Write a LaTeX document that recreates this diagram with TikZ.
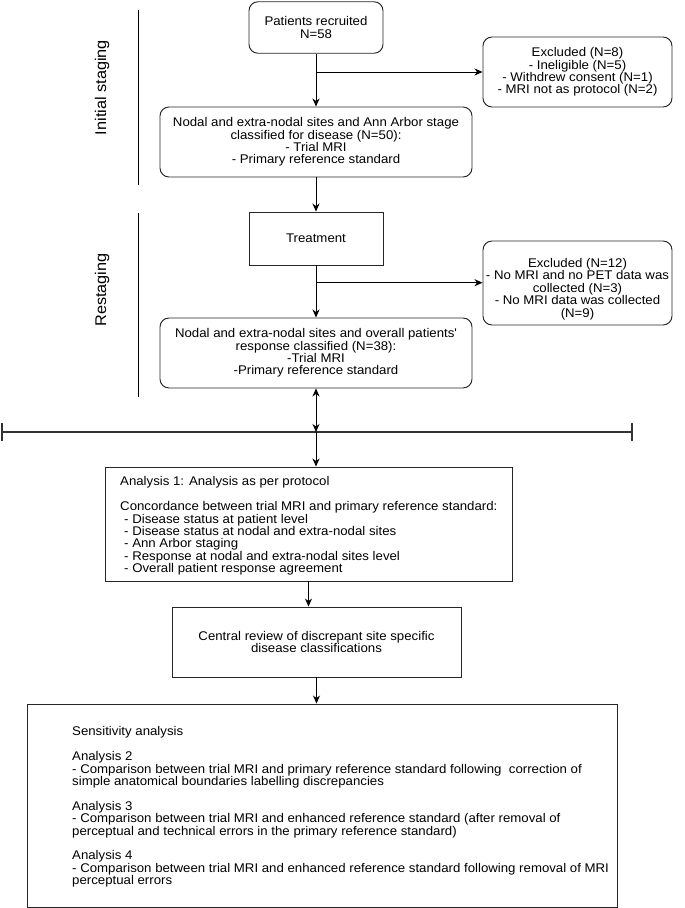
\documentclass[tikz,border=0pt]{standalone}
\usepackage{fontspec}
\setmainfont{Liberation Sans}[FakeStretch=1.05]
\usetikzlibrary{arrows.meta}
\begin{document}
\begin{tikzpicture}[x=1pt,y=1pt,
  every node/.style={font=\fontsize{12.6}{12.4}\selectfont, inner sep=0pt},
  rbox/.style={draw=black!85, line width=0.95pt, rounded corners=9pt},
  sbox/.style={draw=black!85, line width=0.95pt},
  arr/.style={-{Stealth[length=8pt,width=7pt,inset=2.5pt]}, line width=1pt},
  darr/.style={{Stealth[length=8pt,width=7pt,inset=2.5pt]}-{Stealth[length=8pt,width=7pt,inset=2.5pt]}, line width=1pt},
  lab/.style={rotate=90, font=\fontsize{15.5}{18}\selectfont},
  sep/.style={line width=1pt},
  ]
\useasboundingbox (0,0) rectangle (685,-908);

% stage labels and separators
\node[lab] (lab1) at (102,-87.5) {Initial staging};
\node[lab] (lab2) at (102,-290) {Restaging};
\draw[sep] (138,-10) -- (138,-185);
\draw[sep] (138,-213) -- (138,-397);

% top part
\node[rbox, minimum width=134pt, minimum height=51.5pt, align=center] (rec) at (316,-27.5) {Patients recruited\\N=58};
\node[rbox, minimum width=312pt, minimum height=70pt, align=center] (cls) at (316,-142) {Nodal and extra-nodal sites and Ann Arbor stage\\classified for disease (N=50):\\- Trial MRI\\- Primary reference standard};
\node[rbox, minimum width=189pt, minimum height=70pt, align=center] (ex1) at (577.5,-72) {Excluded (N=8)\\- Ineligible (N=5)\\- Withdrew consent (N=1)\\- MRI not as protocol (N=2)};
\coordinate (j1) at (316,-72);
\draw[arr] (rec.south) -- (cls.north);
\draw[arr] (j1) -- (ex1.west);

\node[sbox, minimum width=134pt, minimum height=53pt] (trt) at (316,-238.5) {Treatment};
\draw[arr] (cls.south) -- (trt.north);

\node[rbox, minimum width=189pt, minimum height=84pt] (ex2) at (577.5,-283) {};
\node[align=center] (ex2t) at (577.5,-289) {Excluded (N=12)\\- No MRI and no PET data was\\collected (N=3)\\- No MRI data was collected\\(N=9)};
\node[rbox, minimum width=312pt, minimum height=70pt, align=center] (resp) at (316,-353) {Nodal and extra-nodal sites and overall patients\textquotesingle\\response classified (N=38):\\-Trial MRI\\-Primary reference standard};
\coordinate (j2) at (316,-282.7);
\draw[arr] (trt.south) -- (resp.north);
\draw[arr] (j2) -- (ex2.west |- j2);

% divider
\coordinate (hl) at (316,-432);
\coordinate (hlL) at (2,-432);
\coordinate (hlR) at (632,-432);
\draw[line width=1.1pt, draw=black!80] (hlL) -- (hlR);
\draw[line width=1.3pt, draw=black!80] ([yshift=9pt]hlL) -- ([yshift=-9pt]hlL);
\draw[line width=1.3pt, draw=black!80] ([yshift=9pt]hlR) -- ([yshift=-9pt]hlR);
\draw[darr] (resp.south) -- (hl);

% analysis 1
\node[sbox, minimum width=407pt, minimum height=114pt] (a1) at (308.5,-524) {};
\node[align=left, anchor=north west] (a1t) at (120,-476.5) {Analysis 1: Analysis as per protocol\\[12.4pt]
Concordance between trial MRI and primary reference standard:\\
\hspace*{4pt}- Disease status at patient level\\
\hspace*{4pt}- Disease status at nodal and extra-nodal sites\\
\hspace*{4pt}- Ann Arbor staging\\
\hspace*{4pt}- Response at nodal and extra-nodal sites level\\
\hspace*{4pt}- Overall patient response agreement};
\draw[arr] (hl) -- (hl |- a1.north);

% central review
\node[sbox, minimum width=289pt, minimum height=70pt, align=center] (cr) at (316.5,-642) {Central review of discrepant site specific\\disease classifications};
\draw[arr] (a1.south) -- (a1.south |- cr.north);

% sensitivity
\node[sbox, minimum width=590pt, minimum height=203pt] (sa) at (322,-805.5) {};
\node[align=left, anchor=north west] (sat) at (72,-726.5) {Sensitivity analysis\\[12.4pt]
Analysis 2\\
- Comparison between trial MRI and primary reference standard following~ correction of\\
simple anatomical boundaries labelling discrepancies\\[12.4pt]
Analysis 3\\
- Comparison between trial MRI and enhanced reference standard (after removal of\\
perceptual and technical errors in the primary reference standard)\\[12.4pt]
Analysis 4\\
- Comparison between trial MRI and enhanced reference standard following removal of MRI\\
perceptual errors};
\draw[arr] (cr.south) -- (cr.south |- sa.north);
\end{tikzpicture}
\end{document}
